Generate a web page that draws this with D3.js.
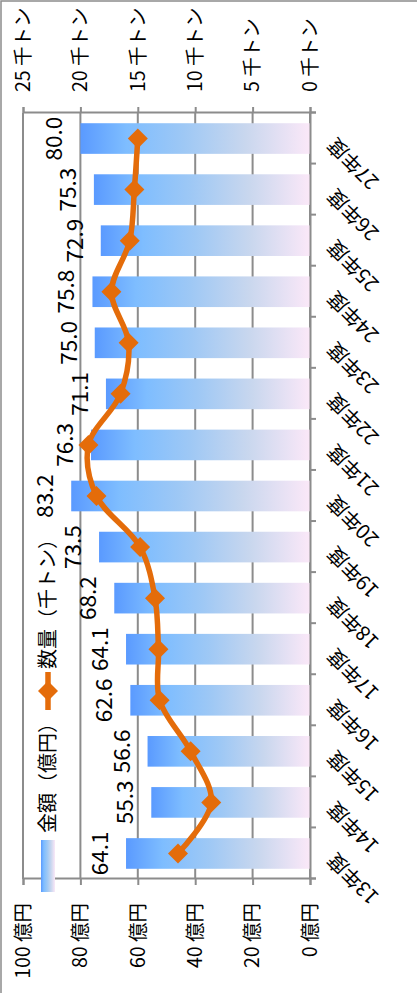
<!DOCTYPE html>
<html>
<head>
<meta charset="utf-8">
<script src="https://cdn.jsdelivr.net/npm/d3@7"></script>
<style>
  body { margin: 0; background: #fff; }
  svg text { font-family: "Noto Sans CJK JP", "Noto Sans", sans-serif; fill: #000; }
</style>
</head>
<body>
<div id="chart"></div>
<script>
// Chart is drawn in its normal (landscape) frame, then turned a quarter to the left
const pageW = 417;
const pageH = 993;
const width = 993;   // landscape width
const height = 417;  // landscape height
const margin = {left: 114, right: 113, top: 23, bottom: 107};

// data
const categories = ["13年度", "14年度", "15年度", "16年度", "17年度", "18年度", "19年度", "20年度",
                    "21年度", "22年度", "23年度", "24年度", "25年度", "26年度", "27年度"];
const amounts = [64.1, 55.3, 56.6, 62.6, 64.1, 68.2, 73.5, 83.2, 76.3, 71.1, 75.0, 75.8, 72.9, 75.3, 80.0];
const quantities = [11.5, 8.6, 10.4, 13.1, 13.2, 13.5, 14.8, 18.6, 19.3, 16.5, 15.8, 17.3, 15.7, 15.3, 15.0];
const amountTicks = [0, 20, 40, 60, 80, 100];
const qtyTicks = [0, 5, 10, 15, 20, 25];
const legendNames = ["金額（億円）", "数量（千トン）"];

const gridColor = "#8c8c8c";
const lineColor = "#e46c0a";

const svg = d3.select("#chart")
  .append("svg")
  .attr("width", pageW)
  .attr("height", pageH);

// gradient for the bars (tip blue -> base pale pink)
const grad = svg.append("defs").append("linearGradient")
  .attr("id", "barGrad")
  .attr("x1", 0).attr("y1", 0).attr("x2", 0).attr("y2", 1);
[[0, "#5a9aff"], [0.2, "#7ebdff"], [0.45, "#9ec8f5"], [0.72, "#c9d7ee"], [1, "#fbe8f8"]]
  .forEach(s => grad.append("stop").attr("offset", s[0]).attr("stop-color", s[1]));

// outer frame
svg.append("rect")
  .attr("x", 1).attr("y", 1)
  .attr("width", pageW + 20).attr("height", pageH + 20)
  .attr("fill", "none")
  .attr("stroke", gridColor)
  .attr("stroke-width", 1.5);

const g = svg.append("g")
  .attr("transform", `translate(0,${pageH}) rotate(-90)`);

// scales
const xScale = d3.scaleBand()
  .domain(categories)
  .range([margin.left, width - margin.right])
  .paddingInner(0.4)
  .paddingOuter(0.2);

const xEdge = d3.scaleLinear()
  .domain([0, categories.length])
  .range([margin.left, width - margin.right]);

const yLeft = d3.scaleLinear()
  .domain([0, 100])
  .range([height - margin.bottom, margin.top]);

const yRight = d3.scaleLinear()
  .domain([0, 25])
  .range([height - margin.bottom, margin.top]);

// gridlines
g.append("g")
  .selectAll("line")
  .data(amountTicks)
  .enter()
  .append("line")
    .attr("x1", margin.left)
    .attr("x2", width - margin.right)
    .attr("y1", d => yLeft(d))
    .attr("y2", d => yLeft(d))
    .attr("stroke", gridColor)
    .attr("stroke-width", 2);

// bars
g.selectAll(".bar")
  .data(amounts)
  .enter()
  .append("rect")
    .attr("class", "bar")
    .attr("x", (d, i) => xScale(categories[i]))
    .attr("y", d => yLeft(d))
    .attr("width", xScale.bandwidth())
    .attr("height", d => yLeft(0) - yLeft(d))
    .attr("fill", "url(#barGrad)");

// axes
function styleAxis(sel) {
  sel.selectAll(".domain").attr("stroke", gridColor).attr("stroke-width", 2);
  sel.selectAll(".tick line").attr("stroke", gridColor).attr("stroke-width", 2);
  sel.selectAll("text").attr("font-size", "19.5px").attr("fill", "#000");
}

g.append("g")
  .attr("transform", `translate(${margin.left},0)`)
  .call(d3.axisLeft(yLeft).tickValues(amountTicks).tickSize(6).tickPadding(18)
          .tickFormat(d => d + " 億円"))
  .call(styleAxis);

g.append("g")
  .attr("transform", `translate(${width - margin.right},0)`)
  .call(d3.axisRight(yRight).tickValues(qtyTicks).tickSize(6).tickPadding(15)
          .tickFormat(d => d + " 千トン"))
  .call(styleAxis);

g.append("g")
  .attr("transform", `translate(0,${height - margin.bottom})`)
  .call(d3.axisBottom(xEdge).tickValues(d3.range(categories.length + 1)).tickSize(6)
          .tickFormat(""))
  .call(styleAxis);

// category labels, slanted
g.append("g")
  .selectAll("text")
  .data(categories)
  .enter()
  .append("text")
    .attr("transform", d => `translate(${xScale(d) + xScale.bandwidth() / 2 - 3},${height - margin.bottom + 21}) rotate(-45)`)
    .attr("text-anchor", "end")
    .attr("dy", "0.35em")
    .attr("font-size", "20px")
    .text(d => d);

// value labels over the bars
g.append("g")
  .selectAll("text")
  .data(amounts)
  .enter()
  .append("text")
    .attr("x", (d, i) => xScale(categories[i]) + xScale.bandwidth() / 2)
    .attr("y", d => yLeft(d) - 18)
    .attr("text-anchor", "middle")
    .attr("font-size", "22.5px")
    .text(d => d.toFixed(1));

// quantity line
const line = d3.line()
  .x((d, i) => xScale(categories[i]) + xScale.bandwidth() / 2)
  .y(d => yRight(d))
  .curve(d3.curveCatmullRom.alpha(0.5));

g.append("path")
  .datum(quantities)
  .attr("d", line)
  .attr("fill", "none")
  .attr("stroke", lineColor)
  .attr("stroke-width", 5.5)
  .attr("stroke-linejoin", "round");

const diamond = d3.symbol().type(d3.symbolSquare).size(200);

g.selectAll(".marker")
  .data(quantities)
  .enter()
  .append("path")
    .attr("class", "marker")
    .attr("d", diamond)
    .attr("transform", (d, i) => `translate(${xScale(categories[i]) + xScale.bandwidth() / 2},${yRight(d)}) rotate(45)`)
    .attr("fill", lineColor);

// legend
const legend = g.append("g").attr("transform", "translate(101,48)");

legend.append("rect")
  .attr("x", 0).attr("y", -7)
  .attr("width", 52).attr("height", 14)
  .attr("fill", "url(#barGrad)");

legend.append("text")
  .attr("x", 59).attr("dy", "0.35em")
  .attr("font-size", "20px")
  .text(legendNames[0]);

legend.append("line")
  .attr("x1", 182).attr("x2", 220)
  .attr("stroke", lineColor)
  .attr("stroke-width", 5.5);

legend.append("path")
  .attr("d", diamond)
  .attr("transform", "translate(201,0) rotate(45)")
  .attr("fill", lineColor);

legend.append("text")
  .attr("x", 223).attr("dy", "0.35em")
  .attr("font-size", "20px")
  .text(legendNames[1]);
</script>
</body>
</html>
